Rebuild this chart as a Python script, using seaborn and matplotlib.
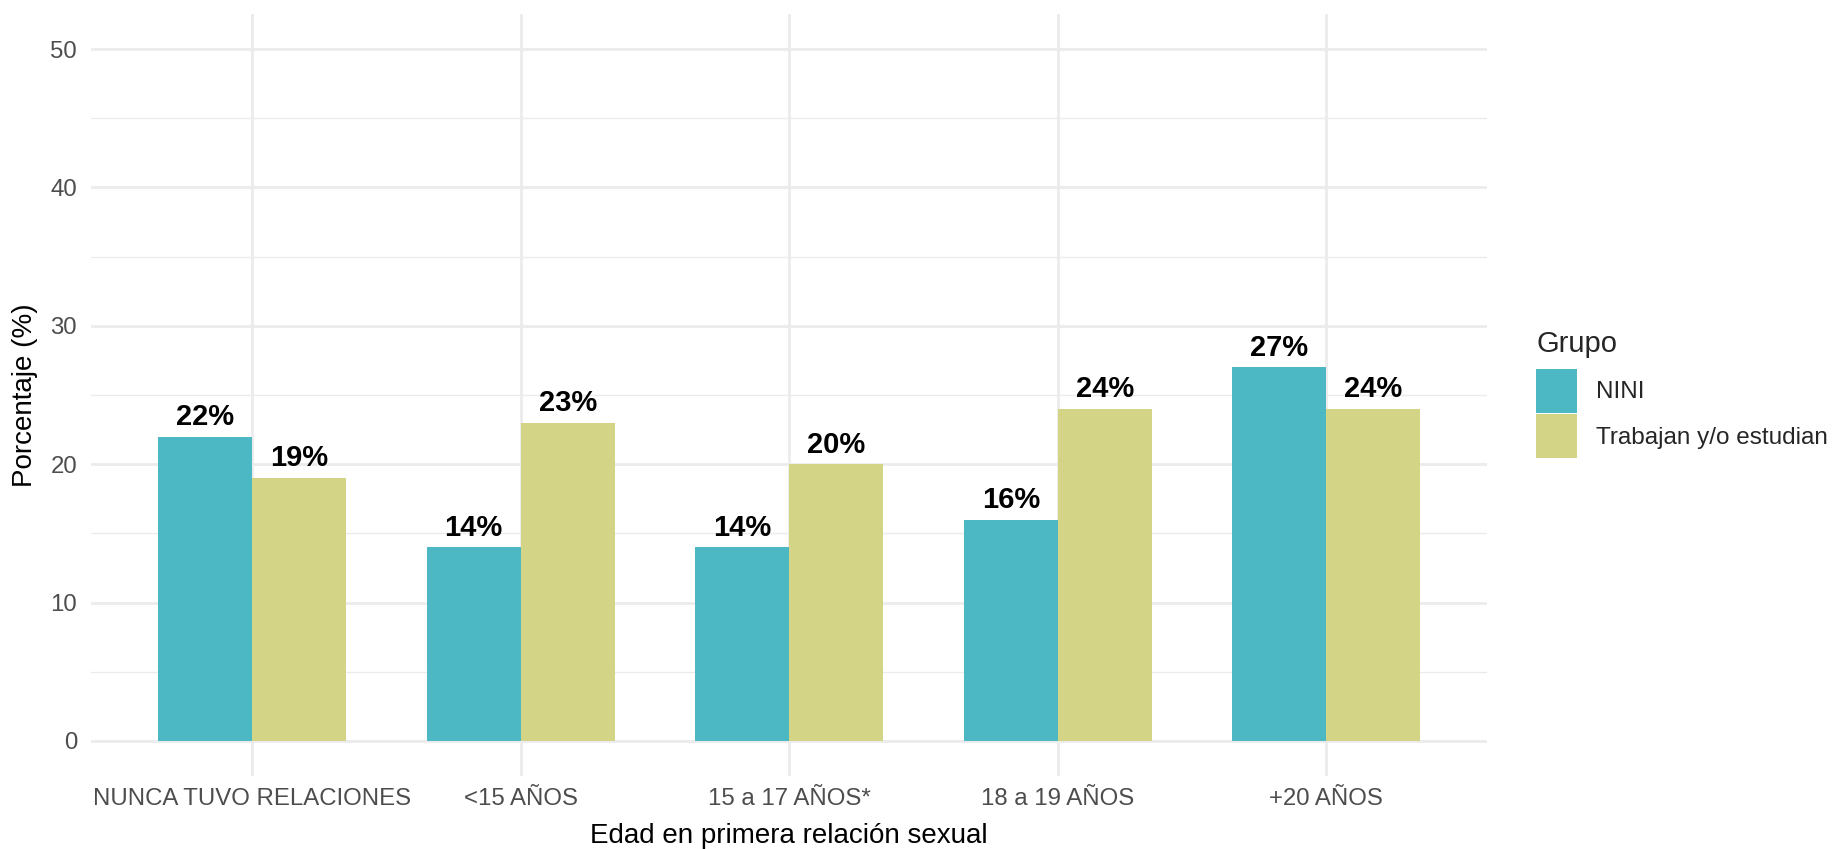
import matplotlib
matplotlib.use("Agg")
import matplotlib.pyplot as plt
import seaborn as sns
import pandas as pd
from matplotlib.ticker import MultipleLocator

categories = ["NUNCA TUVO RELACIONES", "<15 AÑOS", "15 a 17 AÑOS*", "18 a 19 AÑOS", "+20 AÑOS"]
nini = [22, 14, 14, 16, 27]
trabajan = [19, 23, 20, 24, 24]
groups = ["NINI", "Trabajan y/o estudian"]
colors = ["#4BB8C3", "#D3D486"]

df = pd.DataFrame({
    "Edad": categories * 2,
    "Grupo": [groups[0]] * len(categories) + [groups[1]] * len(categories),
    "Porcentaje": nini + trabajan,
})

sns.set_theme(style="whitegrid")
plt.rcParams["font.family"] = ["Liberation Sans", "DejaVu Sans"]

fig = plt.figure(figsize=(18.38, 8.49), dpi=100)
ax = fig.add_axes([0.0495, 0.0865, 0.7598, 0.8965])

sns.barplot(data=df, x="Edad", y="Porcentaje", hue="Grupo", order=categories,
            hue_order=groups, palette=colors, width=0.7, gap=0, saturation=1,
            edgecolor="none", linewidth=0, ax=ax)

for cont in ax.containers:
    ax.bar_label(cont, labels=[f"{v:.0f}%" for v in cont.datavalues], padding=4,
                 fontsize=21, fontweight="bold", color="black")

ax.set_xlim(-0.6, 4.6)
ax.set_ylim(-2.5, 52.5)
ax.yaxis.set_major_locator(MultipleLocator(10))
ax.yaxis.set_minor_locator(MultipleLocator(5))
ax.set_facecolor("white")
ax.grid(True, which="major", axis="both", color="#EBEBEB", linewidth=2)
ax.grid(True, which="minor", axis="y", color="#EBEBEB", linewidth=1)
ax.set_axisbelow(True)
for s in ax.spines.values():
    s.set_visible(False)
ax.tick_params(axis="both", which="both", length=0, labelsize=17.3, labelcolor="#4D4D4D")
ax.tick_params(axis="x", pad=9)
ax.tick_params(axis="y", pad=10)
ax.set_xlabel("Edad en primera relación sexual", fontsize=20, color="black", labelpad=9)
ax.set_ylabel("Porcentaje (%)", fontsize=20, color="black", labelpad=9)

sns.move_legend(ax, loc="center left", bbox_to_anchor=(0.8357, 0.536),
                bbox_transform=fig.transFigure, frameon=False, title="Grupo",
                fontsize=17.5, title_fontsize=21, borderpad=0, borderaxespad=0,
                handlelength=1.7, handleheight=2.4, labelspacing=0.05,
                handletextpad=0.75, alignment="left")
leg = ax.get_legend()
leg._legend_box.sep = 8

fig.savefig("out.png", dpi=100, facecolor="white")
